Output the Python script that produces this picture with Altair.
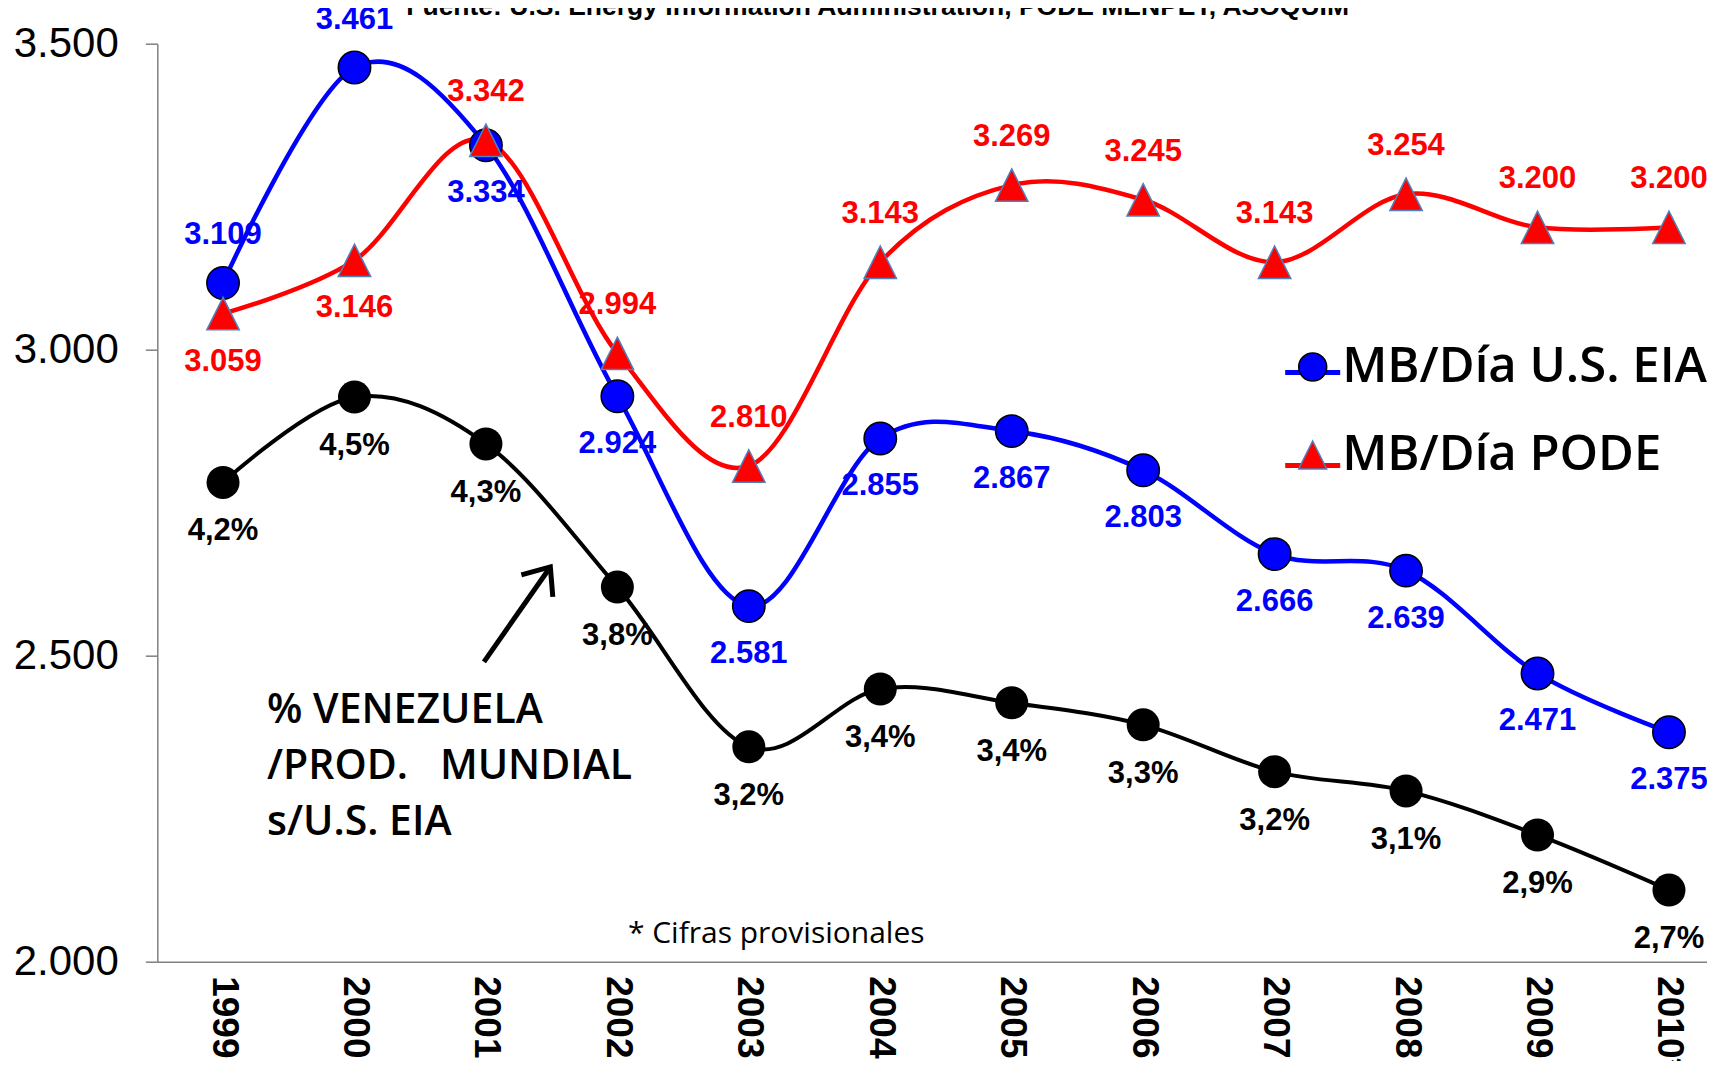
import json
import altair as alt
import pandas as pd

# ---------------- data ----------------
years = ["1999", "2000", "2001", "2002", "2003", "2004", "2005", "2006",
         "2007", "2008", "2009", "2010*"]
eia = [3109, 3461, 3334, 2924, 2581, 2855, 2867, 2803, 2666, 2639, 2471, 2375]
pode = [3059, 3146, 3342, 2994, 2810, 3143, 3269, 3245, 3143, 3254, 3200, 3200]
share_pct = [4.19, 4.50, 4.33, 3.81, 3.23, 3.44, 3.39, 3.31, 3.14, 3.07, 2.91, 2.71]
share_labels = ["4,2%", "4,5%", "4,3%", "3,8%", "3,2%", "3,4%", "3,4%", "3,3%",
                "3,2%", "3,1%", "2,9%", "2,7%"]
series_names = ["MB/Día U.S. EIA", "MB/Día PODE"]
line_keys = ["EIA", "PODE"]
y_ticks = [2000, 2500, 3000, 3500]
annotation_lines = ["% VENEZUELA", "/PROD.\u00a0\u00a0\u00a0MUNDIAL", "s/U.S. EIA"]
footnote = "* Cifras provisionales"
source_text = "Fuente: U.S. Energy Information Administration, PODE MENPET, ASOQUIM"

# annotation anchors (data coordinates)
ANN_POS = (0.335, 2390)
FOOT_POS = (3.08, 2031)
SRC_POS = (4.98, 3547)
ARROW_TAIL = (1.985, 2490)
ARROW_TIP = (2.49, 2645)

# ---------------- layout ----------------
PAD_L, PAD_T = 149.3, 35.7
PW, PH = 1699 - PAD_L, 918
X_MAX = -0.5 + PW / 131.45
BLUE, RED = "#0000FF", "#FF0000"

rows = []
for i, y in enumerate(years):
    for name, key, vals, other in ((series_names[0], line_keys[0], eia, pode),
                                   (series_names[1], line_keys[1], pode, eia)):
        v = vals[i]
        rows.append({
            "idx": i, "year": y, "serie": name, "serie_l": key, "value": v,
            "label": f"{v:,}".replace(",", "."),
            "above": v >= other[i],
        })
df = pd.DataFrame(rows)
df_share = pd.DataFrame({"idx": list(range(len(years))), "share": share_pct,
                         "label": share_labels})

x_enc = alt.X(
    "idx:Q",
    scale=alt.Scale(domain=[-0.5, X_MAX], nice=False, zero=False),
    axis=alt.Axis(
        values=list(range(len(years))),
        labelExpr=f"{json.dumps(years)}[datum.value]",
        labelAngle=90, labelAlign="left", labelBaseline="middle",
        labelFont="Liberation Sans", labelFontWeight="bold", labelFontSize=37,
        labelColor="black", labelPadding=14, ticks=False, tickSize=0,
        labelOverlap=False, labelFlush=False, grid=False,
        domainColor="#808080", domainWidth=1.5,
    ),
    title=None,
)
y_enc = alt.Y(
    "value:Q",
    scale=alt.Scale(domain=[2000, 3500], nice=False, zero=False),
    axis=alt.Axis(
        values=y_ticks,
        labelExpr="replace(format(datum.value, ','), ',', '.')",
        labelFont="Liberation Sans", labelFontSize=42, labelColor="black",
        labelPadding=27, tickSize=12, tickColor="#808080", tickWidth=1.5,
        domainColor="#808080", domainWidth=1.5, grid=False,
    ),
    title=None,
)

LEG_Y = 298.8
leg_common = dict(
    orient="none", title=None, labelFont="Open Sans", labelFontSize=49,
    labelFontWeight=600, labelColor="black", labelLimit=0, padding=0,
    rowPadding=38, labelBaseline="middle",
)
leg_line = alt.Legend(legendX=1125.4, legendY=LEG_Y, symbolType="stroke",
                      symbolSize=3025, symbolStrokeWidth=5, labelExpr="''",
                      **leg_common)
leg_pts = alt.Legend(legendX=1130.9, legendY=LEG_Y, symbolSize=784,
                     symbolStrokeWidth=1.5, labelOffset=5, **leg_common)

tri = "M 0 -1 L 1 1 L -1 1 Z"

lines = alt.Chart(df).mark_line(interpolate="cardinal", strokeWidth=4.5).encode(
    x=x_enc, y=y_enc,
    color=alt.Color("serie_l:N", scale=alt.Scale(domain=line_keys, range=[BLUE, RED]),
                    legend=leg_line),
)
points = alt.Chart(df).mark_point(filled=True, size=1050, strokeWidth=1.5, opacity=1).encode(
    x=x_enc, y=y_enc,
    fill=alt.Fill("serie:N", scale=alt.Scale(domain=series_names, range=[BLUE, RED]),
                  legend=leg_pts),
    stroke=alt.Stroke("serie:N", scale=alt.Scale(domain=series_names, range=["black", "#4F81BD"]),
                      legend=leg_pts),
    shape=alt.Shape("serie:N", scale=alt.Scale(domain=series_names, range=["circle", tri]),
                    legend=leg_pts),
)
label_color = alt.condition(f"datum.serie == '{series_names[0]}'", alt.value(BLUE), alt.value(RED))
lab_style = dict(font="Liberation Sans", fontWeight="bold", fontSize=31,
                 baseline="middle", align="center")
lab_up = alt.Chart(df).transform_filter("datum.above").mark_text(dy=-48, **lab_style).encode(
    x=x_enc, y=y_enc, text="label:N", color=label_color)
lab_dn = alt.Chart(df).transform_filter("!datum.above").mark_text(dy=48, **lab_style).encode(
    x=x_enc, y=y_enc, text="label:N", color=label_color)

ann_df = pd.DataFrame({"idx": [ANN_POS[0]], "value": [ANN_POS[1]]})
ann = alt.Chart(ann_df).mark_text(
    font="Open Sans", fontWeight=600, fontSize=41, align="left",
    baseline="alphabetic", lineHeight=56, color="black",
).encode(x=x_enc, y=y_enc, text=alt.value(annotation_lines))

foot_df = pd.DataFrame({"idx": [FOOT_POS[0]], "value": [FOOT_POS[1]]})
foot = alt.Chart(foot_df).mark_text(
    font="Open Sans", fontSize=30, align="left", baseline="alphabetic", color="black",
).encode(x=x_enc, y=y_enc, text=alt.value(footnote))

src_df = pd.DataFrame({"idx": [SRC_POS[0]], "value": [SRC_POS[1]]})
src = alt.Chart(src_df).mark_text(
    font="Liberation Sans", fontWeight="bold", fontSize=26.5, align="center",
    baseline="alphabetic", color="black",
).encode(x=x_enc, y=y_enc, text=alt.value(source_text))

arrow_df = pd.DataFrame({"idx": [ARROW_TAIL[0]], "value": [ARROW_TAIL[1]],
                         "idx2": [ARROW_TIP[0]], "value2": [ARROW_TIP[1]]})
arrow = alt.Chart(arrow_df).mark_rule(strokeWidth=5, color="black").encode(
    x=x_enc, y=y_enc, x2="idx2:Q", y2="value2:Q")
head_df = pd.DataFrame({"idx": [ARROW_TIP[0]], "value": [ARROW_TIP[1]]})
head = alt.Chart(head_df).mark_point(
    shape="M -0.64 0.77 L 0 0 L 0.64 0.77", size=3600, angle=35, filled=False,
    stroke="black", strokeWidth=5, opacity=1,
).encode(x=x_enc, y=y_enc)

main = alt.layer(lines, points, lab_up, lab_dn, ann, foot, src, arrow, head)

y_share = alt.Y("share:Q", scale=alt.Scale(domain=[2.45, 5.783], nice=False, zero=False),
                axis=None, title=None)
bl_line = alt.Chart(df_share).mark_line(interpolate="cardinal", strokeWidth=4,
                                        color="black").encode(x=x_enc, y=y_share)
bl_pts = alt.Chart(df_share).mark_point(filled=True, size=1090, color="black",
                                        opacity=1).encode(x=x_enc, y=y_share)
bl_lab = alt.Chart(df_share).mark_text(dy=49, color="black", **lab_style).encode(
    x=x_enc, y=y_share, text="label:N")
black = alt.layer(bl_line, bl_pts, bl_lab)

chart = alt.layer(main, black).resolve_scale(y="independent").properties(
    width=PW, height=PH, background="white",
    autosize=alt.AutoSizeParams(type="none"),
    padding={"left": PAD_L, "top": PAD_T, "right": 0, "bottom": 99},
).configure_view(stroke="transparent", strokeWidth=0)

chart.save("out.html", embed_options={"renderer": "svg", "actions": False})
